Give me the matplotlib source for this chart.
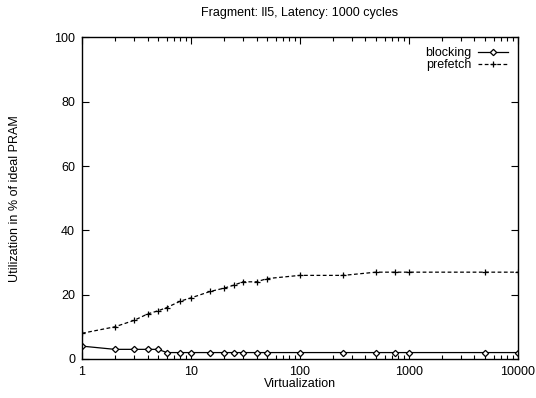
import matplotlib
matplotlib.use("Agg")
import matplotlib.pyplot as plt
from matplotlib.ticker import LogLocator, FixedLocator, NullFormatter

plt.rcParams['font.family'] = ['Liberation Sans', 'DejaVu Sans']
plt.rcParams['font.size'] = 9

# Virtualization levels (x) and utilization (%) per strategy
virtualization = [1, 2, 3, 4, 5, 6, 8, 10, 15, 20, 25, 30, 40, 50, 100,
                  250, 500, 750, 1000, 5000, 10000]
blocking = [4, 3, 3, 3, 3, 2, 2, 2, 2, 2, 2, 2, 2, 2, 2,
            2, 2, 2, 2, 2, 2]
prefetch = [8, 10, 12, 14, 15, 16, 18, 19, 21, 22, 23, 24, 24, 25, 26,
            26, 27, 27, 27, 27, 27]

fig = plt.figure(figsize=(5.36, 3.98), dpi=100)
ax = fig.add_axes([0.153, 0.098, 0.813, 0.808])

ax.plot(virtualization, blocking, color='black', lw=0.9, marker='D',
        markersize=3.2, markerfacecolor='white', markeredgewidth=0.9,
        label='blocking')
ax.plot(virtualization, prefetch, color='black', lw=0.9, ls=(0, (3, 2)),
        marker='+', markersize=5, markeredgewidth=0.9, label='prefetch')

ax.set_xscale('log')
ax.set_xlim(1, 10000)
ax.set_ylim(0, 100)
ax.set_yticks([0, 20, 40, 60, 80, 100])
ax.xaxis.set_major_locator(FixedLocator([1, 10, 100, 1000, 10000]))
ax.set_xticklabels(['1', '10', '100', '1000', '10000'])
ax.xaxis.set_minor_locator(LogLocator(base=10, subs=range(2, 10)))
ax.xaxis.set_minor_formatter(NullFormatter())

ax.tick_params(which='both', direction='in', top=True, right=True, width=0.8)
ax.tick_params(axis='y', pad=5)
ax.tick_params(axis='x', pad=5)
ax.tick_params(which='major', length=5)
ax.tick_params(which='minor', length=3)
for s in ax.spines.values():
    s.set_linewidth(1.0)

ax.set_xlabel('Virtualization', labelpad=0)
ax.set_ylabel('Utilization in % of ideal PRAM', labelpad=24)
ax.set_title('Fragment: ll5, Latency: 1000 cycles', fontsize=9, pad=15.5)

ax.legend(loc='upper right', frameon=False, markerfirst=False,
          handlelength=2.4, handletextpad=0.5, labelspacing=0.0,
          borderaxespad=0.4, fontsize=9)

fig.savefig('out.png', dpi=100)
